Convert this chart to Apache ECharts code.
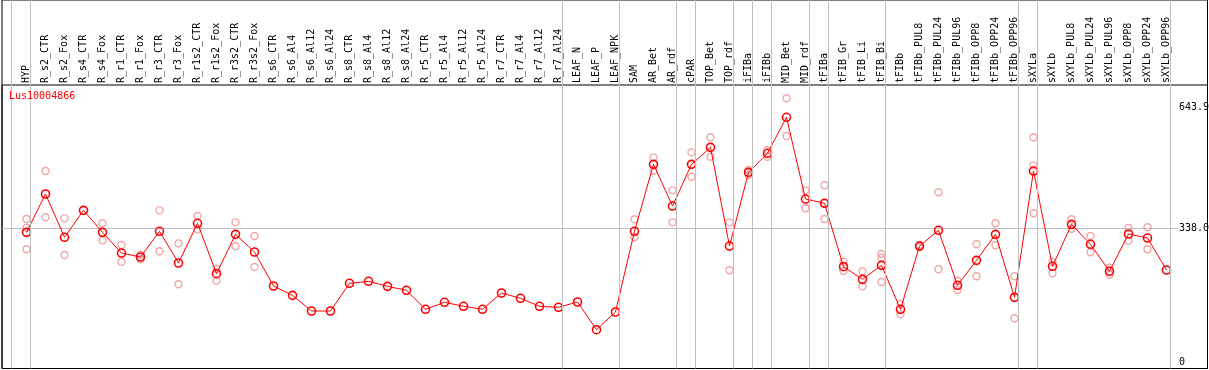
<!DOCTYPE html>
<html>
<head>
<meta charset="utf-8">
<script src="https://cdn.jsdelivr.net/npm/echarts@6/dist/echarts.min.js"></script>
<style>
html,body{margin:0;padding:0;background:#fff;}
#c{width:1209px;height:370px;}
</style>
</head>
<body>
<div id="c"></div>
<script>
const geneName = 'Lus10004866';
const categories = ['HYP','R_s2_CTR','R_s2_Fox','R_s4_CTR','R_s4_Fox','R_r1_CTR','R_r1_Fox','R_r3_CTR','R_r3_Fox','R_r1s2_CTR','R_r1s2_Fox','R_r3s2_CTR','R_r3s2_Fox','R_s6_CTR','R_s6_Al4','R_s6_Al12','R_s6_Al24','R_s8_CTR','R_s8_Al4','R_s8_Al12','R_s8_Al24','R_r5_CTR','R_r5_Al4','R_r5_Al12','R_r5_Al24','R_r7_CTR','R_r7_Al4','R_r7_Al12','R_r7_Al24','LEAF_N','LEAF_P','LEAF_NPK','SAM','AR_Bet','AR_rdf','cPAR','TOP_Bet','TOP_rdf','iFIBa','iFIBb','MID_Bet','MID_rdf','tFIBa','tFIB_Gr','tFIB_Li','tFIB_Bi','tFIBb','tFIBb_PUL8','tFIBb_PUL24','tFIBb_PUL96','tFIBb_OPP8','tFIBb_OPP24','tFIBb_OPP96','sXYLa','sXYLb','sXYLb_PUL8','sXYLb_PUL24','sXYLb_PUL96','sXYLb_OPP8','sXYLb_OPP24','sXYLb_OPP96'];
const meanValues = [327.8,424.7,315.2,383.4,327.8,275.5,265.4,330.4,250.3,350.6,223.3,322.7,278.1,192.1,168.5,128.9,128.9,198.9,204,191.3,181.2,133.2,150.9,140.8,133.2,174.4,161,140.8,138.3,151.7,81.7,126.4,330.4,499.7,394.3,499.7,542.7,293.2,479.5,527.6,618.6,412,401.2,241,209,244.4,133.2,293.2,332.9,193.9,257,322.7,163.5,482.8,241.9,348,297.5,229.3,323.6,313.4,232.6];
const replicateValues = [
 [361.5,339.5,284.9],[482.8,365.8],[363.2,270.5],[],[350.6,307.6],[295.8,253.5],[259.6,271],[383.4,279.8],[300,196.4],[369,335.4],
 [235.8,205.5],[353.1,292.5],[318.5,240.1],[],[],[],[],[],[],[],
 [],[],[],[],[],[],[],[],[],[],
 [],[],[360.7,315.2],[517.4,483.6],[434,353.1],[530,468.4],[568,519],[353.1,231.8],[485.3,472.7],[535.9,519],
 [666.6,571.3],[434,388.5],[446.7,401,361.5],[253.5,230],[229.3,191.3],[273,263.7,202.2],[146.6,120.6],[296,290],[429,234.3],[204.8,182],
 [297.5,216.6],[350.6,295],[216.6,110.5],[568,497.2,375.9],[253.5,224.2],[360.7,337],[318.5,277.3],[238.4,220.7],[338.7,306.6],[340.5,284.9],
 []
];
// group separators drawn after these category indices
const separatorsAfter = [-1,0,28,31,34,35,37,38,39,41,42,45,52,53,60];
const yTickValues = [0,338,643.9];
const yTickLabels = ['0','338.0','643.9'];

const FONT = 'DejaVu Sans Mono';
const X0 = 26.5, STEP = 19, LEFT = 2, RIGHT = 1207.5;
const xMin = (LEFT - X0) / STEP, xMax = (RIGHT - X0) / STEP;
const Y0PIX = 362, YSCALE = 0.39556, TOP = 85, BOTTOM = 368.5;
const yMax = (Y0PIX - TOP) / YSCALE, yMin = (Y0PIX - BOTTOM) / YSCALE;
const lineEndX = (1178 - X0) / STEP;

const meanData = meanValues.map((v, i) => [i, v]);
const repData = [];
replicateValues.forEach((arr, i) => arr.forEach(v => repData.push([i, v])));

const chart = echarts.init(document.getElementById('c'), null, {renderer: 'canvas'});
chart.setOption({
  animation: false,
  backgroundColor: '#fff',
  title: {
    text: geneName, left: 9, top: 91, padding: 0,
    textStyle: {color: '#ff0000', fontFamily: FONT, fontSize: 10, fontWeight: 'normal'}
  },
  grid: [
    {left: LEFT, top: 0, width: RIGHT - LEFT, height: BOTTOM, show: true, borderColor: '#000', borderWidth: 1, backgroundColor: 'transparent'},
    {left: LEFT, top: TOP, width: RIGHT - LEFT, height: BOTTOM - TOP, show: true, borderColor: '#000', borderWidth: 1, backgroundColor: 'transparent'},
    {left: X0 - STEP / 2, top: TOP, width: STEP * categories.length, height: BOTTOM - TOP, show: false}
  ],
  xAxis: [
    {type: 'value', gridIndex: 0, min: xMin, max: xMax, show: false},
    {type: 'value', gridIndex: 1, min: xMin, max: xMax, show: false},
    {type: 'category', gridIndex: 2, position: 'top', data: categories, boundaryGap: true,
     axisLine: {show: false}, axisTick: {show: false}, splitLine: {show: false},
     axisLabel: {interval: 0, rotate: 90, margin: 2, color: '#000', fontFamily: FONT, fontSize: 10}}
  ],
  yAxis: [
    {type: 'value', gridIndex: 0, min: 0, max: 1, show: false},
    {type: 'value', gridIndex: 1, min: yMin, max: yMax, show: false},
    {type: 'value', gridIndex: 2, show: false}
  ],
  series: [
    {
      type: 'line', xAxisIndex: 0, yAxisIndex: 0, data: [], silent: true, symbol: 'none',
      markLine: {
        silent: true, symbol: 'none', label: {show: false},
        lineStyle: {color: '#c0c0c0', width: 1, type: 'solid'},
        emphasis: {disabled: true},
        data: separatorsAfter.map(i => ({xAxis: i + 4 / STEP}))
      }
    },
    {
      type: 'line', xAxisIndex: 1, yAxisIndex: 1, data: [], silent: true, symbol: 'none', clip: false,
      markLine: {
        silent: true, symbol: 'none', z: 1,
        emphasis: {disabled: true},
        label: {show: true, position: 'end', distance: 1, color: '#000', fontFamily: FONT, fontSize: 10, formatter: '{b}'},
        data: yTickValues.map((v, k) => [
          {name: yTickLabels[k], coord: [xMin, v],
           lineStyle: {color: v === 338 ? '#c0c0c0' : 'rgba(255,255,255,0)', width: 1, type: 'solid'},
           label: {show: true, color: '#000'}},
          {coord: [lineEndX, v]}
        ])
      }
    },
    {
      type: 'scatter', xAxisIndex: 1, yAxisIndex: 1, data: repData, silent: true,
      symbol: 'circle', symbolSize: 7, z: 3,
      itemStyle: {color: 'rgba(0,0,0,0)', borderColor: '#ee9090', borderWidth: 1.4},
      emphasis: {disabled: true}
    },
    {
      type: 'line', xAxisIndex: 1, yAxisIndex: 1, data: meanData, silent: true, z: 4,
      symbol: 'circle', symbolSize: 8, showAllSymbol: true,
      lineStyle: {color: '#ff0000', width: 1},
      itemStyle: {color: 'rgba(0,0,0,0)', borderColor: '#ff0000', borderWidth: 1.6},
      emphasis: {disabled: true}
    }
  ]
});
</script>
</body>
</html>
